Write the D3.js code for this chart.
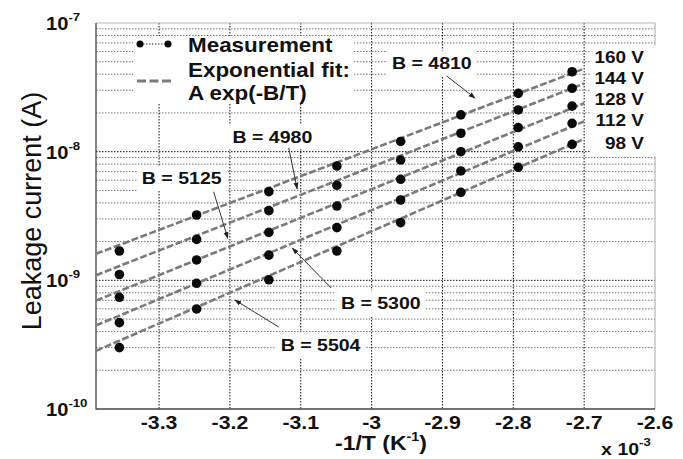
<!DOCTYPE html>
<html>
<head>
<meta charset="utf-8">
<script src="https://cdn.jsdelivr.net/npm/d3@7"></script>
<style>
body { margin: 0; background: #fff; }
svg { display: block; font-family: Arial, "Liberation Sans", sans-serif; }
</style>
</head>
<body>
<svg id="chart"></svg>
<script>
var width = 683;
var height = 459;

// -1/T in units of 1e-3 K^-1 (T = 298 ... 368 K)
var invT = [-3.356, -3.247, -3.145, -3.049, -2.959, -2.874, -2.793, -2.717];

// leakage current (A) per bias voltage
var voltages = ['160 V', '144 V', '128 V', '112 V', '98 V'];
var current160 = [1.69e-9, 3.22e-9, 4.89e-9, 7.74e-9, 1.20e-8, 1.93e-8, 2.84e-8, 4.18e-8];
var current144 = [1.11e-9, 2.08e-9, 3.48e-9, 5.48e-9, 8.61e-9, 1.39e-8, 2.11e-8, 3.11e-8];
var current128 = [7.38e-10, 1.44e-9, 2.36e-9, 3.78e-9, 6.10e-9, 9.99e-9, 1.54e-8, 2.26e-8];
var current112 = [4.69e-10, 9.48e-10, 1.57e-9, 2.57e-9, 4.21e-9, 7.08e-9, 1.09e-8, 1.66e-8];
var current98 = [3.00e-10, 5.99e-10, 1.01e-9, 1.69e-9, 2.81e-9, 4.83e-9, 7.56e-9, 1.14e-8];
var currents = [current160, current144, current128, current112, current98];

// exponential fit  I = A exp(-B/T)
var fitB = [4810, 4980, 5125, 5300, 5504];
var fitA = [0.0193, 0.0234, 0.0243, 0.0282, 0.0357];
var fitRange = [-3.389, -2.70];

var xTicks = [-3.3, -3.2, -3.1, -3, -2.9, -2.8, -2.7, -2.6];
var xTickLabels = ['-3.3', '-3.2', '-3.1', '-3', '-2.9', '-2.8', '-2.7', '-2.6'];
var yTicks = [1e-10, 1e-9, 1e-8, 1e-7];
var yTickExp = ['-10', '-9', '-8', '-7'];

// layout --------------------------------------------------------------
var plot = {left: 96, right: 655, top: 23, bottom: 409};
var sx = 1.15;   // the reference text is a bit wide

var svg = d3.select('#chart').attr('width', width).attr('height', height);

var xScale = d3.scaleLinear()
    .domain([-3.389, -2.6])
    .range([plot.left, plot.right]);

var yScale = d3.scaleLog()
    .domain([1e-10, 1e-7])
    .range([plot.bottom, plot.top]);

svg.append('defs').append('marker')
    .attr('id', 'head')
    .attr('viewBox', '0 0 10 10')
    .attr('refX', 9).attr('refY', 5)
    .attr('markerWidth', 7).attr('markerHeight', 7)
    .attr('orient', 'auto')
  .append('path')
    .attr('d', 'M0,1.5 L10,5 L0,8.5 Z')
    .attr('fill', '#222');

function stretchText(parent, x, y, str, size, anchor, weight) {
  var g = parent.append('g')
      .attr('transform', 'translate(' + x + ',' + y + ') scale(' + sx + ',1)');
  g.append('text')
      .attr('text-anchor', anchor || 'start')
      .style('font-size', size + 'px')
      .style('font-weight', weight || 'bold')
      .attr('fill', '#111')
      .text(str);
  return g;
}

function boxBehind(g, padX, padY) {
  var b = g.node().getBBox();
  g.insert('rect', ':first-child')
      .attr('x', b.x - padX).attr('y', b.y - padY)
      .attr('width', b.width + 2 * padX).attr('height', b.height + 2 * padY)
      .attr('fill', '#fff');
}

// grid ----------------------------------------------------------------
var minor = [];
for (var e = -10; e < -7; e++) {
  for (var k = 2; k <= 9; k++) minor.push(k * Math.pow(10, e));
}

var grid = svg.append('g');
grid.selectAll('.minor').data(minor).enter().append('line')
    .attr('x1', plot.left).attr('x2', plot.right)
    .attr('y1', d => yScale(d)).attr('y2', d => yScale(d))
    .attr('stroke', '#777').attr('stroke-width', 1)
    .attr('stroke-dasharray', '1.5,1.5');

grid.selectAll('.hmajor').data(yTicks.slice(1, 3)).enter().append('line')
    .attr('x1', plot.left).attr('x2', plot.right)
    .attr('y1', d => yScale(d)).attr('y2', d => yScale(d))
    .attr('stroke', '#111').attr('stroke-width', 1)
    .attr('stroke-dasharray', '1.5,1.5');

grid.selectAll('.vmajor').data(xTicks.slice(0, 7)).enter().append('line')
    .attr('x1', d => xScale(d)).attr('x2', d => xScale(d))
    .attr('y1', plot.top).attr('y2', plot.bottom)
    .attr('stroke', '#111').attr('stroke-width', 1)
    .attr('stroke-dasharray', '1.5,1.5');

// frame
svg.append('path')
    .attr('d', 'M' + plot.left + ',' + plot.top + 'H' + plot.right + 'V' + plot.bottom)
    .attr('fill', 'none').attr('stroke', '#b5b5b5').attr('stroke-width', 1.2);
svg.append('path')
    .attr('d', 'M' + plot.left + ',' + plot.top + 'V' + plot.bottom + 'H' + plot.right)
    .attr('fill', 'none').attr('stroke', '#444').attr('stroke-width', 1.3);

// tick labels
var xLab = svg.append('g');
xTicks.forEach(function(t, i) {
  stretchText(xLab, xScale(t), 429, xTickLabels[i], 18.5, 'middle');
});

var yLab = svg.append('g');
yTicks.forEach(function(t, i) {
  var g = stretchText(yLab, 46, yScale(t) + 7, '10', 17.5, 'start');
  g.select('text').append('tspan')
      .attr('dy', -9)
      .style('font-size', '11.5px')
      .text(yTickExp[i]);
});

// axis titles
var xt = stretchText(svg, 381, 450, '-1/T (K', 20, 'middle');
xt.select('text').append('tspan').attr('dy', -9).style('font-size', '12.5px').text('-1');
xt.select('text').append('tspan').attr('dy', 9).text(')');

var xs = stretchText(svg, 626, 455, 'x 10', 17, 'middle');
xs.select('text').append('tspan').attr('dy', -9).style('font-size', '11.5px').text('-3');

svg.append('text')
    .attr('transform', 'translate(41,211) rotate(-90)')
    .attr('text-anchor', 'middle')
    .style('font-size', '27px')
    .attr('fill', '#111')
    .text('Leakage current (A)');

// fit lines ------------------------------------------------------------
var fitLine = d3.line()
    .x(d => xScale(d.x))
    .y(d => yScale(d.y));

svg.append('g').selectAll('path')
    .data(fitB)
    .enter()
    .append('path')
      .attr('d', function(b, i) {
        return fitLine(fitRange.map(x => ({x: x, y: fitA[i] * Math.exp(b * x * 1e-3)})));
      })
      .attr('fill', 'none')
      .attr('stroke', '#7a7a7a')
      .attr('stroke-width', 2.6)
      .attr('stroke-dasharray', '7,2.5');

// measurements
svg.append('g').selectAll('g')
    .data(currents)
    .enter()
    .append('g')
    .selectAll('circle')
    .data(d => d)
    .enter()
    .append('circle')
      .attr('cx', (d, j) => xScale(invT[j]))
      .attr('cy', d => yScale(d))
      .attr('r', 4.8)
      .attr('fill', '#0a0a0a');

// voltage labels
var volt = svg.append('g');
voltages.forEach(function(v, i) {
  var vy = [5.41e-8, 3.72e-8, 2.55e-8, 1.76e-8, 1.16e-8][i];
  stretchText(volt, 644, yScale(vy) + 6, v, 16.5, 'end');
});
(function() {
  var b = volt.node().getBBox();
  volt.insert('rect', ':first-child')
      .attr('x', b.x - 4).attr('y', b.y - 3)
      .attr('width', b.width + 20).attr('height', b.height + 6)
      .attr('fill', '#fff');
})();

// B annotations (positions in data units)
var notes = [
  {text: 'B = 4810', x: -2.915, y: 4.86e-8, x1: -2.894, y1: 3.87e-8, x2: -2.854, y2: 2.61e-8},
  {text: 'B = 4980', x: -3.140, y: 1.31e-8, x1: -3.117, y1: 1.07e-8, x2: -3.105, y2: 5.13e-9},
  {text: 'B = 5125', x: -3.268, y: 6.21e-9, x1: -3.223, y1: 4.89e-9, x2: -3.203, y2: 2.12e-9},
  {text: 'B = 5300', x: -2.987, y: 6.63e-10, x1: -3.057, y1: 8.72e-10, x2: -3.112, y2: 1.78e-9},
  {text: 'B = 5504', x: -3.072, y: 3.14e-10, x1: -3.131, y1: 4.34e-10, x2: -3.193, y2: 7.03e-10}
];

var noteG = svg.append('g');
notes.forEach(function(n) {
  var g = stretchText(noteG, xScale(n.x), yScale(n.y) + 6, n.text, 17, 'middle');
  boxBehind(g, 4, 3);
  noteG.append('line')
      .attr('x1', xScale(n.x1)).attr('y1', yScale(n.y1))
      .attr('x2', xScale(n.x2)).attr('y2', yScale(n.y2))
      .attr('stroke', '#333').attr('stroke-width', 1)
      .attr('marker-end', 'url(#head)');
});

// legend
var legend = svg.append('g');
legend.append('rect')
    .attr('x', 133).attr('y', 36).attr('width', 221).attr('height', 67)
    .attr('fill', '#fff');
legend.append('line')
    .attr('x1', 140).attr('x2', 168).attr('y1', 44).attr('y2', 44)
    .attr('stroke', '#333').attr('stroke-dasharray', '1.5,1.5');
legend.selectAll('circle').data([140, 168]).enter().append('circle')
    .attr('cx', d => d).attr('cy', 44).attr('r', 3.5).attr('fill', '#0a0a0a');
legend.append('line')
    .attr('x1', 137).attr('x2', 172).attr('y1', 81).attr('y2', 81)
    .attr('stroke', '#7a7a7a').attr('stroke-width', 3)
    .attr('stroke-dasharray', '9,3.5');
stretchText(legend, 188, 51.5, 'Measurement', 19.5, 'start');
stretchText(legend, 188, 77, 'Exponential fit:', 19.5, 'start');
stretchText(legend, 188, 99.5, 'A exp(-B/T)', 19.5, 'start');
</script>
</body>
</html>
